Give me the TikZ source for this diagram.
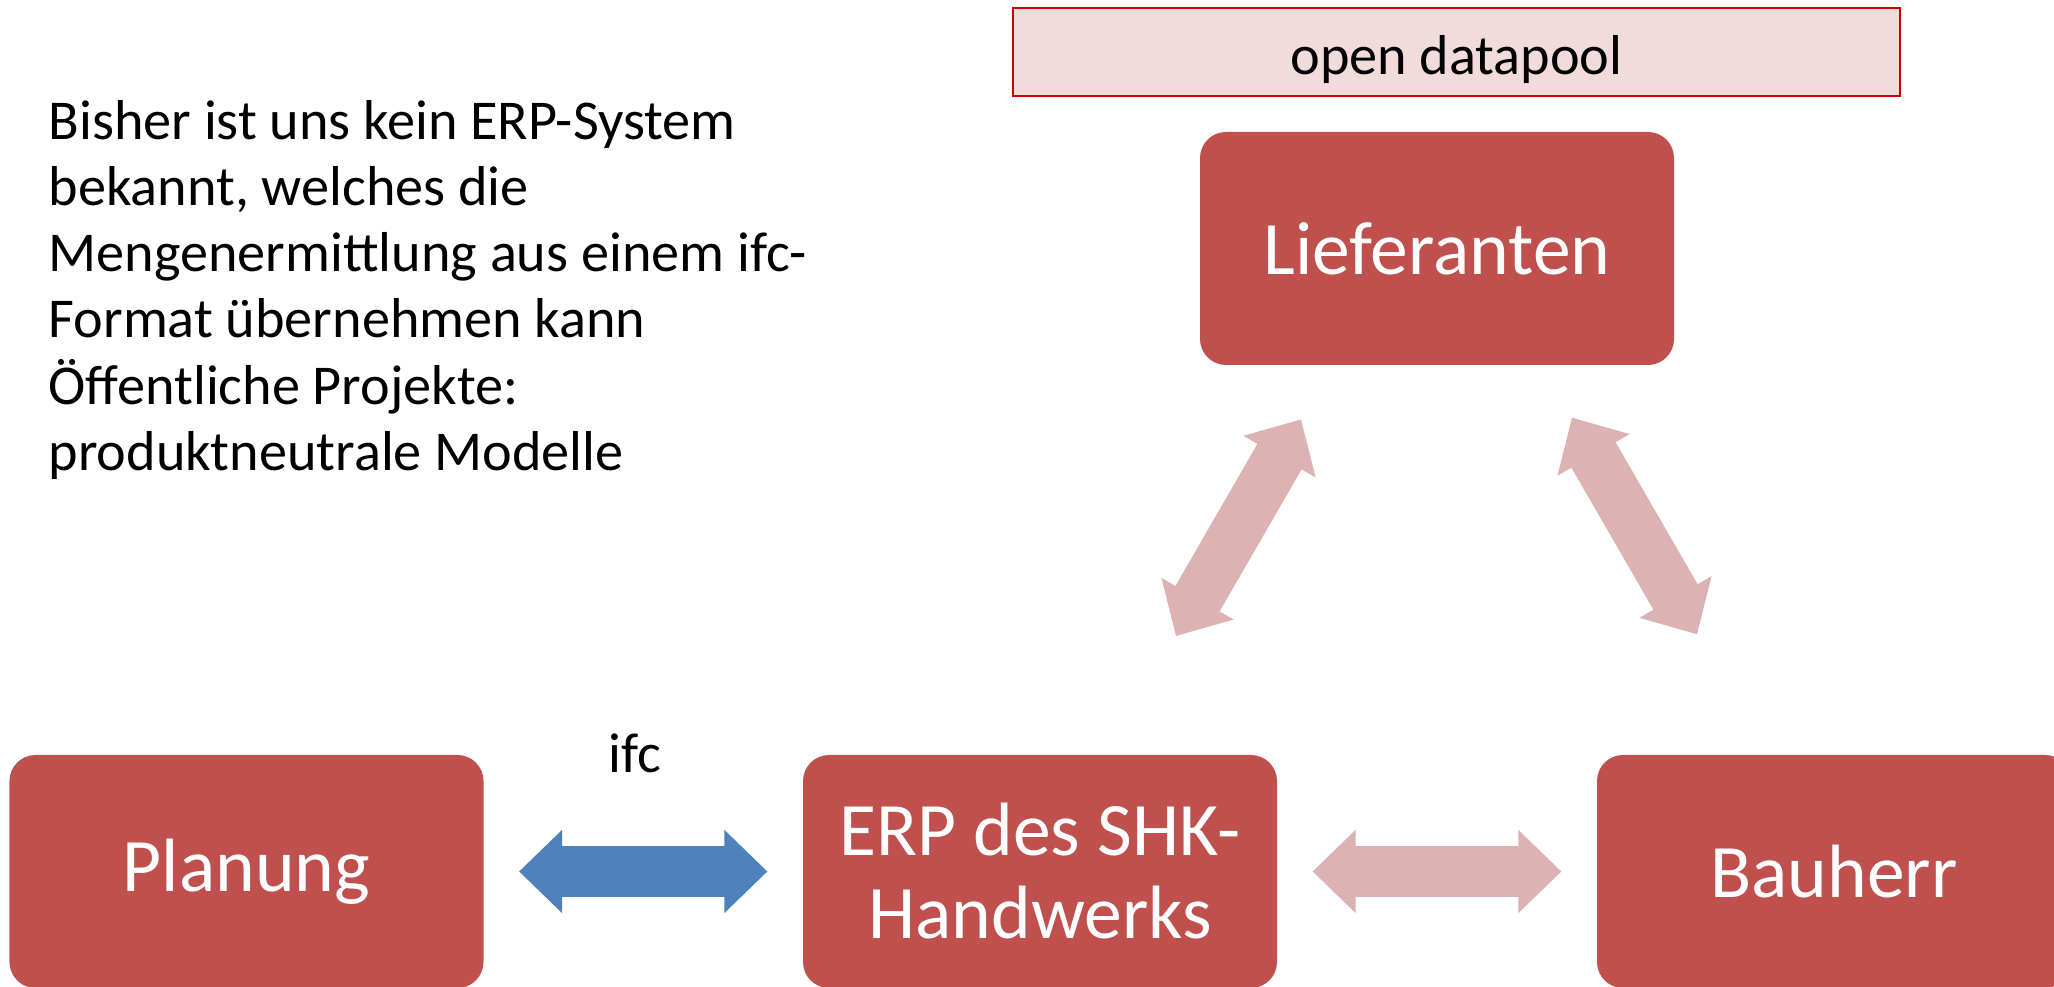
\documentclass[tikz,border=0pt]{standalone}
\usepackage{fontspec}
\setmainfont{Carlito}
\usepackage{xcolor}
\usepackage{tikz}
\usetikzlibrary{arrows.meta,calc}

\definecolor{boxred}{HTML}{C0504D}
\definecolor{arrowpink}{HTML}{DDB2B2}
\definecolor{arrowblue}{HTML}{4F81BD}
\definecolor{poolfill}{HTML}{F2DCDB}
\definecolor{poolline}{HTML}{CC0000}

\begin{document}
\begin{tikzpicture}[
    box/.style={fill=boxred, text=white, rounded corners=0.26cm,
      minimum width=4.74cm, minimum height=2.33cm, align=center,
      font=\fontsize{21.5}{23.6}\selectfont},
    bigarrow/.style={line width=0.51cm,
      {Triangle[length=0.43cm,width=0.83cm,line width=0.6pt]}-{Triangle[length=0.43cm,width=0.83cm,line width=0.6pt]}},
    gap/.style={shorten <=0.35cm, shorten >=0.35cm},
    plain/.style={font=\fontsize{16}{18.8}\selectfont}
  ]
      \clip (0,0) rectangle (20.54,9.87);

      % 箱の定義
      \node[box] (lief) at (14.37,7.385) {Lieferanten};
      \node[box] (plan) at (2.465,1.155) {Planung};
      \node[box] (erp)  at (10.40,1.155) {ERP des SHK-\\Handwerks};
      \node[box] (bau)  at (18.34,1.155) {Bauherr};

      % open datapool
      \node[plain, fill=poolfill, draw=poolline, line width=0.8pt, inner sep=0pt,
        text height=16pt, text depth=3.3pt,
        minimum width=8.87cm, minimum height=0.88cm] (pool) at (14.565,9.35) {open datapool};

      % 説明文
      \node[plain, anchor=north west, inner sep=0pt, align=left] (note) at (0.48,8.87)
        {Bisher ist uns kein ERP-System\\
         bekannt, welches die\\
         Mengenermittlung aus einem ifc-\\
         Format übernehmen kann\\
         Öffentliche Projekte:\\
         produktneutrale Modelle};

      % 矢印
      \draw[bigarrow, gap, arrowblue] (plan) -- (erp);
      \draw[bigarrow, gap, arrowpink] (erp) -- (bau);
      \node[plain, anchor=base] (ifc) at (6.35,2.14) {ifc};

      \coordinate (l1) at ($(erp.center)+(60:2.72)$);
      \coordinate (l2) at ($(erp.center)+(60:5.22)$);
      \coordinate (r1) at ($(bau.center)+(120:2.74)$);
      \coordinate (r2) at ($(bau.center)+(120:5.24)$);
      \draw[bigarrow, arrowpink] (l1) -- (l2);
      \draw[bigarrow, arrowpink] (r1) -- (r2);
  \end{tikzpicture}
\end{document}
